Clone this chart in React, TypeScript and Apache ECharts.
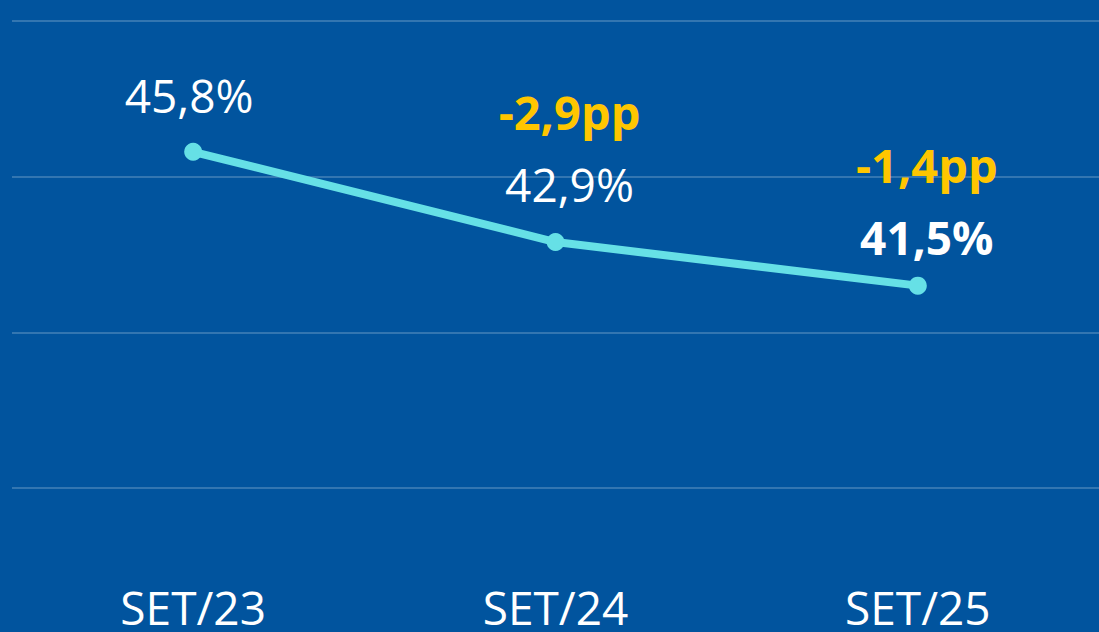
import React, { useEffect, useRef } from "react";
import * as echarts from "echarts";

const categories = ["SET/23", "SET/24", "SET/25"];
const values = [45.8, 42.9, 41.5];
const deltas = ["", "-2,9pp", "-1,4pp"];
const yTicks = [35, 40, 45, 50];

const fmt = (v: number) => v.toFixed(1).replace(".", ",") + "%";

export default function App() {
  const ref = useRef<HTMLDivElement>(null);
  useEffect(() => {
    if (!ref.current) return;
    const chart = echarts.init(ref.current, null, { renderer: "svg" });
    const distances = [12, 13, 4];
    const offsets = [-4, 14, 9];
    const data = values.map((v, i) => ({
      value: v,
      label: {
        distance: distances[i],
        offset: [offsets[i], 0],
        formatter: () => {
          const valStyle = i === values.length - 1 ? "vb" : "v";
          const d = deltas[i] ? `{d|${deltas[i]}}\n` : "";
          return `${d}{${valStyle}|${fmt(v)}}`;
        },
      },
    }));
    chart.setOption({
      animation: false,
      backgroundColor: "#01549E",
      grid: { top: 21, bottom: 144, left: 12, right: 0, containLabel: false },
      xAxis: {
        type: "category",
        data: categories,
        boundaryGap: true,
        axisLine: { show: false },
        axisTick: { show: false },
        axisLabel: {
          color: "#ffffff",
          fontSize: 46,
          lineHeight: 44,
          fontFamily: "Open Sans",
          margin: 97,
        },
      },
      yAxis: {
        type: "value",
        min: yTicks[0],
        max: yTicks[yTicks.length - 1],
        interval: 5,
        axisLabel: { show: false },
        axisLine: { show: false },
        axisTick: { show: false },
        splitLine: { lineStyle: { color: "rgba(255,255,255,0.2)", width: 2 } },
      },
      series: [
        {
          type: "line",
          data,
          symbol: "circle",
          symbolSize: 18,
          lineStyle: { color: "#66E0E6", width: 8 },
          itemStyle: { color: "#66E0E6" },
          label: {
            show: true,
            position: "top",
            rich: {
              v: { fontSize: 46, color: "#ffffff", fontFamily: "Open Sans", lineHeight: 72 },
              vb: { fontSize: 46, color: "#ffffff", fontFamily: "Open Sans", fontWeight: "bold", lineHeight: 72 },
              d: { fontSize: 47, color: "#FFC600", fontFamily: "Open Sans", fontWeight: "bold", lineHeight: 72 },
            },
          },
        },
      ],
    });
    return () => chart.dispose();
  }, []);
  return <div ref={ref} style={{ width: 1099, height: 632, position: "absolute", left: 0, top: 0 }} />;
}
